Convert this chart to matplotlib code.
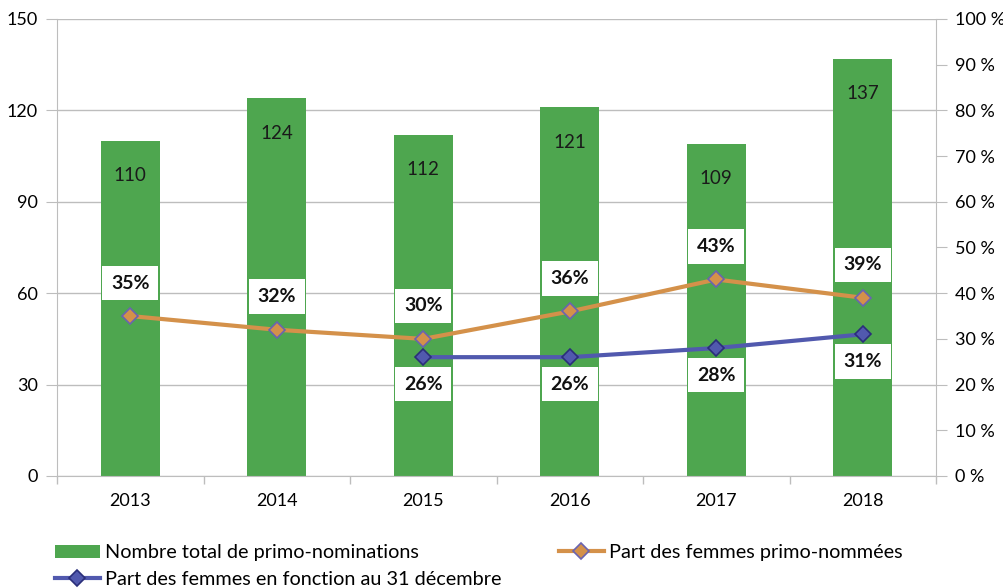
import matplotlib
matplotlib.use("Agg")
import matplotlib.pyplot as plt
from matplotlib.ticker import FuncFormatter, MultipleLocator

plt.rcParams['font.family'] = ['Lato', 'DejaVu Sans']

years = ["2013", "2014", "2015", "2016", "2017", "2018"]
total = [110, 124, 112, 121, 109, 137]
part_primo = [35, 32, 30, 36, 43, 39]
years_fonction = ["2015", "2016", "2017", "2018"]
part_fonction = [26, 26, 28, 31]

green = "#4EA64F"
orange = "#D4914A"
blue = "#5159AE"
gridc = "#BDBDBD"

fig = plt.figure(figsize=(10.04, 5.88), dpi=100)
ax = fig.add_axes([0.0568, 0.1905, 0.8755, 0.7772])
x = list(range(len(years)))
ax.bar(x, total, width=0.4, color=green, zorder=2, label="Nombre total de primo-nominations")
for xi, v in zip(x, total):
    ax.annotate(str(v), (xi, v), xytext=(0, -35), textcoords="offset pixels",
                ha="center", va="center", fontsize=13.5, color="#1a1a1a", zorder=3)

ax.set_xlim(-0.5, len(years) - 0.5)
ax.set_ylim(0, 150)
ax.yaxis.set_major_locator(MultipleLocator(30))
ax.set_xticks(x)
ax.set_xticklabels(years)
ax.set_xticks([i + 0.5 for i in range(-1, len(years))], minor=True)
ax.tick_params(axis="x", which="major", length=0, labelsize=13, pad=12)
ax.tick_params(axis="x", which="minor", length=6, color=gridc, width=1)
ax.tick_params(axis="y", length=8, color=gridc, labelsize=13, pad=6)
ax.grid(axis="y", color=gridc, linewidth=1, zorder=0)
for s in ["top", "right"]:
    ax.spines[s].set_visible(False)
for s in ["left", "bottom"]:
    ax.spines[s].set_color(gridc)

ax2 = ax.twinx()
ax2.set_ylim(0, 100)
ax2.yaxis.set_major_locator(MultipleLocator(10))
ax2.yaxis.set_major_formatter(FuncFormatter(lambda v, p: f"{int(v)} %"))
ax2.tick_params(axis="y", length=8, color=gridc, labelsize=13, pad=6)
for s in ["top", "left", "bottom"]:
    ax2.spines[s].set_visible(False)
ax2.spines["right"].set_color(gridc)

xp = [years.index(y) for y in years]
ax2.plot(xp, part_primo, color=orange, linewidth=3, marker="D", markersize=8,
         markerfacecolor=orange, markeredgecolor="#6A63B0", markeredgewidth=1.2,
         zorder=4, label="Part des femmes primo-nommées")
xf = [years.index(y) for y in years_fonction]
ax2.plot(xf, part_fonction, color=blue, linewidth=3, marker="D", markersize=8,
         markerfacecolor=blue, markeredgecolor="#2A2E7A", markeredgewidth=1.2,
         zorder=4, label="Part des femmes en fonction au 31 décembre")

bbox = dict(boxstyle="square,pad=0.45", facecolor="white", edgecolor="none")
for xi, v in zip(xp, part_primo):
    ax2.annotate(f"{v}%", (xi, v), xytext=(0, 33), textcoords="offset pixels",
                 ha="center", va="center", fontsize=14, fontweight="bold",
                 color="#111111", bbox=bbox, zorder=5)
for xi, v in zip(xf, part_fonction):
    ax2.annotate(f"{v}%", (xi, v), xytext=(0, -27), textcoords="offset pixels",
                 ha="center", va="center", fontsize=14, fontweight="bold",
                 color="#111111", bbox=bbox, zorder=5)

h1, l1 = ax.get_legend_handles_labels()
h2, l2 = ax2.get_legend_handles_labels()
fig.legend([h1[0], h2[1], h2[0]], [l1[0], l2[1], l2[0]], loc="lower left",
           bbox_to_anchor=(0.037, -0.031), ncol=2, frameon=False, fontsize=14.3,
           columnspacing=2.9, handlelength=2.26, handletextpad=0.25, labelspacing=0.5)

fig.savefig("out.png", dpi=100)
